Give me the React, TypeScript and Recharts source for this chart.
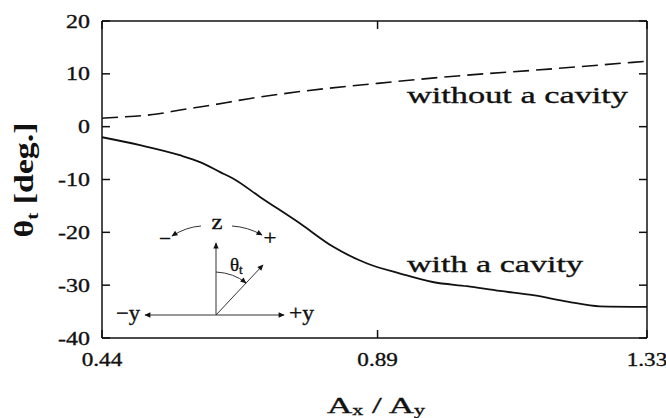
import React from 'react';
import { LineChart, Line, XAxis, YAxis } from 'recharts';

// tilt angle of the cantilever vs. aspect ratio of the cross-section
const withCavityRatio = [0.44, 0.502, 0.567, 0.6, 0.633, 0.654, 0.698, 0.763, 0.817, 0.873, 0.927, 0.98, 1.036, 1.09, 1.144, 1.2, 1.253, 1.33];
const withCavityTheta = [-2.0, -3.5, -5.4, -6.7, -8.6, -9.8, -13.3, -18.3, -22.7, -25.9, -27.8, -29.4, -30.2, -31.1, -31.9, -33.1, -34.0, -34.1];

const noCavityRatio = [0.44, 0.47, 0.53, 0.57, 0.61, 0.68, 0.76, 0.89, 1.01, 1.17, 1.33];
const noCavityTheta = [1.6, 1.8, 2.4, 3.2, 3.9, 5.3, 6.6, 8.2, 9.5, 10.9, 12.4];

const xTicks = [0.44, 0.89, 1.33];
const yTicks = [20, 10, 0, -10, -20, -30, -40];

const withCavity = withCavityRatio.map((r, i) => ({ r, theta: withCavityTheta[i] }));
const noCavity = noCavityRatio.map((r, i) => ({ r, theta: noCavityTheta[i] }));

const SERIF = "'Liberation Serif', 'DejaVu Serif', serif";
const INK = '#111';
// slightly heavier than the regular face
const font = { fontFamily: SERIF, stroke: INK, strokeWidth: 0.35 };

const fmtX = (v: number) => v.toFixed(2);

// wide serif tick labels
const BottomTick = ({ x, y, payload }: any) => (
  <g transform={`translate(${x},${y})`}>
    <text transform="scale(1.22,1)" textAnchor="middle" dy="0.71em" style={font} fontSize={19} fill={INK}>
      {fmtX(payload.value)}
    </text>
  </g>
);

const LeftTick = ({ x, y, payload }: any) => (
  <g transform={`translate(${x},${y})`}>
    <text transform="scale(1.26,1)" textAnchor="end" dy="0.35em" style={font} fontSize={19} fill={INK}>
      {payload.value}
    </text>
  </g>
);

const NoTick = () => <g />;

function WideText({ x, y, len, size, anchor = 'start', weight = 'normal', children }: any) {
  return (
    <text
      x={x}
      y={y}
      textLength={len}
      lengthAdjust="spacingAndGlyphs"
      textAnchor={anchor}
      style={font}
      fontSize={size}
      fontWeight={weight}
      fill={INK}
    >
      {children}
    </text>
  );
}

// small coordinate sketch in the lower-left corner
function Inset() {
  const stroke = '#333';
  return (
    <g>
      <defs>
        <marker id="ah" viewBox="0 0 10 10" refX="9" refY="5" markerWidth="10" markerHeight="6" orient="auto" markerUnits="userSpaceOnUse">
          <path d="M0,0.5 L10,5 L0,9.5 Z" fill={INK} />
        </marker>
      </defs>
      <line x1={216} y1={315} x2={216} y2={243} stroke={stroke} strokeWidth={1} markerEnd="url(#ah)" />
      <line x1={216} y1={315} x2={145} y2={315} stroke="#777" strokeWidth={1.5} markerEnd="url(#ah)" />
      <line x1={216} y1={315} x2={284} y2={315} stroke="#777" strokeWidth={1.5} markerEnd="url(#ah)" />
      <line x1={216} y1={315} x2={263} y2={265} stroke={stroke} strokeWidth={1} markerEnd="url(#ah)" />
      <path d="M216,272 Q234,273 246,283" fill="none" stroke={stroke} strokeWidth={1} markerEnd="url(#ah)" />
      <path d="M201,226 Q186,227 172,236" fill="none" stroke={stroke} strokeWidth={1} markerEnd="url(#ah)" />
      <path d="M232,226 Q248,227 262,235" fill="none" stroke={stroke} strokeWidth={1} markerEnd="url(#ah)" />
      <WideText x={217} y={229} len={11} size={21} anchor="middle">z</WideText>
      <WideText x={165} y={245} len={12} size={20} anchor="middle">−</WideText>
      <WideText x={270} y={245} len={13} size={20} anchor="middle">+</WideText>
      <text x={230} y={271} style={font} fontSize={19} fill={INK}>
        θ<tspan fontSize={13} dy={3}>t</tspan>
      </text>
      <WideText x={140} y={320} len={24} size={21} anchor="end">−y</WideText>
      <WideText x={289} y={320} len={25} size={21}>+y</WideText>
    </g>
  );
}

export default function App() {
  return (
    <div style={{ position: 'absolute', left: 0, top: 0, width: 666, height: 418, background: '#fff' }}>
      <LineChart width={666} height={418} data={withCavity} margin={{ top: 20, right: 18, bottom: 40, left: 42 }}>
        <XAxis
          xAxisId="b"
          type="number"
          dataKey="r"
          domain={[0.44, 1.33]}
          ticks={xTicks}
          allowDataOverflow
          height={40}
          stroke={INK}
          strokeWidth={1.5}
          tickSize={-8}
          tickMargin={22}
          tick={<BottomTick />}
        />
        <XAxis
          xAxisId="t"
          orientation="top"
          type="number"
          dataKey="r"
          domain={[0.44, 1.33]}
          ticks={xTicks}
          allowDataOverflow
          height={1}
          stroke={INK}
          strokeWidth={1.5}
          tickSize={-8}
          tick={NoTick}
        />
        <YAxis
          yAxisId="l"
          type="number"
          domain={[-40, 20]}
          ticks={yTicks}
          allowDataOverflow
          width={60}
          stroke={INK}
          strokeWidth={1.5}
          tickSize={-8}
          tickMargin={20}
          tick={<LeftTick />}
        />
        <YAxis
          yAxisId="r"
          orientation="right"
          type="number"
          domain={[-40, 20]}
          ticks={yTicks}
          allowDataOverflow
          width={1}
          stroke={INK}
          strokeWidth={1.5}
          tickSize={-8}
          tick={NoTick}
        />
        <Line
          xAxisId="b"
          yAxisId="l"
          data={noCavity}
          dataKey="theta"
          type="monotone"
          stroke={INK}
          strokeWidth={1.6}
          strokeDasharray="16 7"
          dot={false}
          isAnimationActive={false}
        />
        <Line
          xAxisId="b"
          yAxisId="l"
          data={withCavity}
          dataKey="theta"
          type="monotone"
          stroke={INK}
          strokeWidth={1.8}
          dot={false}
          isAnimationActive={false}
        />
      </LineChart>
      <svg width={666} height={418} style={{ position: 'absolute', left: 0, top: 0, pointerEvents: 'none' }}>
        <WideText x={407} y={103} len={221} size={24}>without a cavity</WideText>
        <WideText x={407} y={272} len={176} size={24}>with a cavity</WideText>
        <Inset />
        <text
          x={0}
          y={0}
          transform="translate(33,180) rotate(-90)"
          textAnchor="middle"
          style={{ fontFamily: SERIF }}
          fontSize={27}
          fontWeight="bold"
          fill={INK}
          textLength={115}
          lengthAdjust="spacingAndGlyphs"
        >
          θ<tspan fontSize={17} dy={5}>t</tspan>
          <tspan dy={-5}> [deg.]</tspan>
        </text>
        <text
          x={376}
          y={413}
          textAnchor="middle"
          style={font}
          fontSize={24}
          fill={INK}
          textLength={98}
          lengthAdjust="spacingAndGlyphs"
        >
          A<tspan fontSize={15} dy={2}>x</tspan>
          <tspan dy={-2}> / A</tspan>
          <tspan fontSize={15} dy={2}>y</tspan>
        </text>
      </svg>
    </div>
  );
}
